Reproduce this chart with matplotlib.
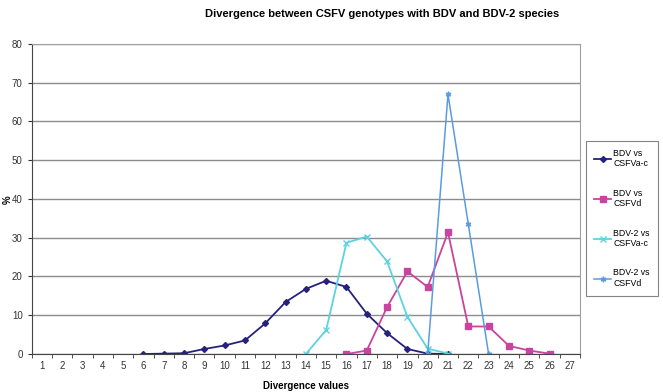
import matplotlib.pyplot as plt
import numpy as np

plt.rcParams['font.family'] = ['Liberation Sans', 'DejaVu Sans']

# divergence values (categories 1..27)
categories = list(range(1, 28))

bdv_x = list(range(6, 22))
bdv_acsfv = [0, 0.1, 0.2, 1.3, 2.2, 3.5, 7.9, 13.4, 16.8, 18.9, 17.3, 10.4, 5.4, 1.3, 0.1, 0]

bdvd_x = list(range(16, 27))
bdv_dcsfv = [0, 0.9, 12.1, 21.3, 17.3, 31.4, 7.1, 7.1, 2.1, 0.9, 0.1]

bdv2a_x = list(range(14, 22))
bdv2_acsfv = [0, 6.2, 28.7, 30.3, 23.9, 9.6, 1.4, 0.1]

bdv2d_x = [20, 21, 22, 23]
bdv2_dcsfv = [0, 67.0, 33.5, 0]

fig = plt.figure(figsize=(6.63, 3.92), dpi=100)
ax = fig.add_axes([0.0478, 0.0969, 0.827, 0.791])

ax.plot(bdv_x, bdv_acsfv, color='#26217c', marker='D', markersize=3, lw=1.3,
        label='BDV vs\nCSFVa-c')
ax.plot(bdvd_x, bdv_dcsfv, color='#c8449f', marker='s', markersize=4, lw=1.3,
        label='BDV vs\nCSFVd')
ax.plot(bdv2a_x, bdv2_acsfv, color='#5dd2e0', marker='x', markersize=4, lw=1.3,
        label='BDV-2 vs\nCSFVa-c')
ax.plot(bdv2d_x, bdv2_dcsfv, color='#5b9be0', marker=(6, 2, 0), markersize=4, lw=1.1,
        label='BDV-2 vs\nCSFVd')

ax.set_xlim(0.5, 27.5)
ax.set_ylim(0, 80)
ax.set_xticks(categories)
ax.set_xticks(np.arange(0.5, 28, 1), minor=True)
ax.tick_params(axis='x', which='major', length=0, labelsize=7, pad=5, colors='#333333')
ax.tick_params(axis='x', which='minor', length=3, color='#333333')
ax.set_yticks(range(0, 81, 10))
ax.tick_params(axis='y', length=3, labelsize=7, colors='#333333')

ax.grid(axis='y', color='#8c8c8c', lw=1)
ax.set_axisbelow(True)
for s in ['top', 'right']:
    ax.spines[s].set_color('#a0a0a0')
for s in ['left', 'bottom']:
    ax.spines[s].set_color('#444444')

ax.set_xlabel('Divergence values', fontsize=7, fontweight='bold', labelpad=7)
fig.text(8 / 663, 0.49, '%', fontsize=7, fontweight='bold', rotation=90,
         ha='center', va='center')

fig.text(0.577, 0.965, 'Divergence between CSFV genotypes with BDV and BDV-2 species',
         ha='center', va='center', fontsize=8, fontweight='bold')

leg = fig.legend(loc='upper left', bbox_to_anchor=(0.884, 0.641), fontsize=6.3,
                 frameon=True, fancybox=False, edgecolor='#666666', labelspacing=2.35,
                 handlelength=2.0, handletextpad=0.2, borderpad=0.9, borderaxespad=0)
leg.get_frame().set_linewidth(0.8)

fig.savefig('out.png', dpi=100)
